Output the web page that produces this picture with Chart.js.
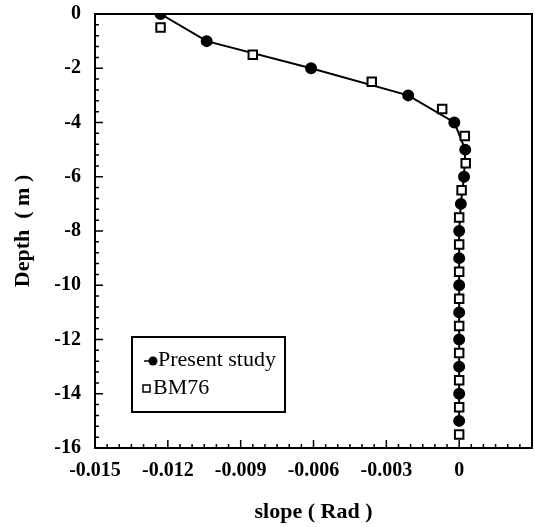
<!DOCTYPE html>
<html>
<head>
<meta charset="utf-8">
<script src="https://cdn.jsdelivr.net/npm/chart.js@4.4.0/dist/chart.umd.min.js"></script>
<style>
  html, body { margin: 0; padding: 0; background: #fff; }
  canvas { display: block; }
</style>
</head>
<body>
<canvas id="slopeChart" width="535" height="527"></canvas>
<script>
// Present study (filled circles, solid line)
const depthPresent = [0, -1, -2, -3, -4, -5, -6, -7, -8, -9, -10, -11, -12, -13, -14, -15];
const slopePresent = [-0.0123, -0.0104, -0.0061, -0.0021, -0.0002, 0.00025, 0.0002, 0.00007, 0, 0, 0, 0, 0, 0, 0, 0];

// BM76 (open squares)
const depthBM76 = [-0.5, -1.5, -2.5, -3.5, -4.5, -5.5, -6.5, -7.5, -8.5, -9.5, -10.5, -11.5, -12.5, -13.5, -14.5, -15.5];
const slopeBM76 = [-0.0123, -0.0085, -0.0036, -0.0007, 0.00023, 0.00027, 0.0001, 0, 0, 0, 0, 0, 0, 0, 0, 0];

const seriesNames = ['Present study', 'BM76'];
const xTickValues = [-0.015, -0.012, -0.009, -0.006, -0.003, 0];
const yTickValues = [0, -2, -4, -6, -8, -10, -12, -14, -16];

const serif = "'Liberation Serif', 'Times New Roman', serif";

function toPoints(xs, ys) {
    return xs.map((x, i) => ({ x: x, y: ys[i] }));
}

// frame and inward tick marks (major + minor)
const frameTicks = {
    id: 'frameTicks',
    beforeDatasetsDraw(chart) {
        const ctx = chart.ctx;
        const a = chart.chartArea;
        const xs = chart.scales.x;
        const ys = chart.scales.y;
        ctx.save();
        ctx.strokeStyle = '#000';
        ctx.lineWidth = 2;
        ctx.strokeRect(a.left, a.top, a.right - a.left, a.bottom - a.top);
        ctx.lineWidth = 1.5;
        ctx.beginPath();
        for (let i = 0; i <= 36; i++) {
            const px = xs.getPixelForValue(-0.015 + i * 0.0005);
            const len = i % 6 === 0 ? 8 : 4;
            ctx.moveTo(px, a.bottom);
            ctx.lineTo(px, a.bottom - len);
        }
        for (let i = 0; i <= 40; i++) {
            const py = ys.getPixelForValue(-16 + i * 0.4);
            const len = i % 5 === 0 ? 8 : 4;
            ctx.moveTo(a.left, py);
            ctx.lineTo(a.left + len, py);
        }
        ctx.stroke();
        ctx.restore();
    }
};

// boxed legend inside the plot
const boxLegend = {
    id: 'boxLegend',
    afterDraw(chart) {
        const ctx = chart.ctx;
        const a = chart.chartArea;
        const left = a.left + 37, top = a.top + 323, w = 153, h = 75;
        ctx.save();
        ctx.fillStyle = '#fff';
        ctx.fillRect(left, top, w, h);
        ctx.strokeStyle = '#000';
        ctx.lineWidth = 2;
        ctx.strokeRect(left, top, w, h);

        // Present study marker
        ctx.lineWidth = 1.5;
        ctx.beginPath();
        ctx.moveTo(left + 12, top + 24);
        ctx.lineTo(left + 20, top + 24);
        ctx.stroke();
        ctx.fillStyle = '#000';
        ctx.beginPath();
        ctx.arc(left + 21, top + 24, 4.5, 0, Math.PI * 2);
        ctx.fill();
        // BM76 marker
        ctx.fillStyle = '#fff';
        ctx.fillRect(left + 11, top + 48, 7, 7);
        ctx.strokeRect(left + 11, top + 48, 7, 7);

        ctx.fillStyle = '#000';
        ctx.font = '22px ' + serif;
        ctx.textBaseline = 'middle';
        ctx.fillText(seriesNames[0], left + 26, top + 23);
        ctx.fillText(seriesNames[1], left + 21, top + 51);
        ctx.restore();
    }
};

const ctx = document.getElementById('slopeChart');

const chart = new Chart(ctx, {
    type: 'scatter',
    data: {
        datasets: [
            {
                label: seriesNames[1],
                data: toPoints(slopeBM76, depthBM76),
                showLine: false,
                pointStyle: 'rect',
                pointRadius: 6,
                pointBorderWidth: 2,
                pointBackgroundColor: '#fff',
                pointBorderColor: '#000',
                order: 0
            },
            {
                label: seriesNames[0],
                data: toPoints(slopePresent, depthPresent),
                showLine: true,
                borderColor: '#000',
                borderWidth: 2,
                tension: 0,
                pointStyle: 'circle',
                pointRadius: 5,
                pointBackgroundColor: '#000',
                pointBorderColor: '#000',
                order: 1
            }
        ]
    },
    options: {
        responsive: false,
        animation: false,
        devicePixelRatio: 1,
        layout: {
            autoPadding: false,
            padding: { top: 14, right: 3, left: 0, bottom: 0 }
        },
        scales: {
            x: {
                type: 'linear',
                min: -0.015,
                max: 0.003,
                afterFit: (scale) => {
                    scale.height = 79;
                    scale.paddingLeft = 0;
                    scale.paddingRight = 0;
                },
                afterBuildTicks: (scale) => {
                    scale.ticks = xTickValues.map(v => ({ value: v }));
                },
                grid: { display: false, drawTicks: false },
                border: { display: false },
                ticks: {
                    color: '#000',
                    padding: 11,
                    maxRotation: 0,
                    font: { family: serif, size: 20, weight: 'bold' },
                    callback: (v) => Math.abs(v) < 1e-9 ? '0' : v.toFixed(3)
                },
                title: {
                    display: true,
                    text: 'slope ( Rad )',
                    color: '#000',
                    font: { family: serif, size: 22, weight: 'bold' },
                    padding: { top: 4, bottom: 1 }
                }
            },
            y: {
                type: 'linear',
                min: -16,
                max: 0,
                afterFit: (scale) => {
                    scale.width = 95;
                    scale.paddingTop = 0;
                    scale.paddingBottom = 0;
                },
                afterBuildTicks: (scale) => {
                    scale.ticks = yTickValues.map(v => ({ value: v }));
                },
                grid: { display: false, drawTicks: false },
                border: { display: false },
                ticks: {
                    color: '#000',
                    padding: 14,
                    font: { family: serif, size: 20, weight: 'bold' },
                    callback: (v) => String(v)
                },
                title: {
                    display: true,
                    text: 'Depth  ( m )',
                    color: '#000',
                    font: { family: serif, size: 22, weight: 'bold' },
                    padding: { top: 10, bottom: 0 }
                }
            }
        },
        plugins: {
            legend: { display: false },
            tooltip: { enabled: false }
        }
    },
    plugins: [frameTicks, boxLegend]
});
</script>
</body>
</html>
